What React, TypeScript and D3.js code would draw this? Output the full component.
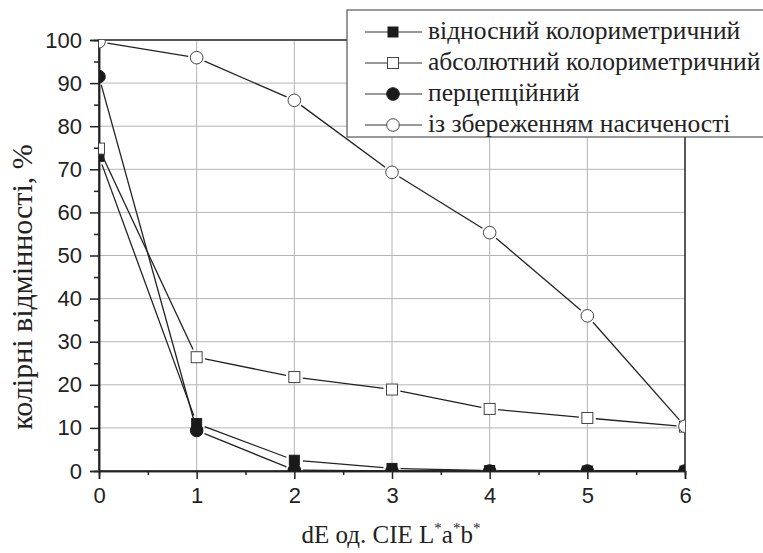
import React, { useEffect, useRef } from 'react';
import * as d3 from 'd3';

const xValues = [0, 1, 2, 3, 4, 5, 6];
const relative = [73, 11, 2.5, 0.6, 0.1, 0, 0];
const absolute = [74.8, 26.4, 21.8, 18.9, 14.4, 12.3, 10.3];
const perceptual = [91.5, 9.4, 0.2, 0, 0, 0, 0];
const saturation = [99.6, 95.9, 86, 69.3, 55.3, 36, 10.4];
const seriesNames = [
  'відносний колориметричний',
  'абсолютний колориметричний',
  'перцепційний',
  'із збереженням насиченості',
];
const yTicks = [0, 10, 20, 30, 40, 50, 60, 70, 80, 90, 100];

const SERIF = '"Liberation Serif", "Times New Roman", serif';

const App = () => {
  const svgRef = useRef<SVGSVGElement>(null);

  useEffect(() => {
    const W = 763;
    const H = 553;
    const margin = { top: 40, right: 78, bottom: 82, left: 99 };
    const width = W - margin.left - margin.right;
    const height = H - margin.top - margin.bottom;

    const x = d3.scaleLinear().domain([0, 6]).range([0, width]);
    const y = d3.scaleLinear().domain([0, 100]).range([height, 0]);

    const svg = d3.select(svgRef.current);
    svg.selectAll('*').remove();
    svg.attr('width', W).attr('height', H);

    svg.append('defs').append('clipPath').attr('id', 'plotclip')
      .append('rect').attr('width', width).attr('height', height);

    const g = svg.append('g').attr('transform', `translate(${margin.left},${margin.top})`);

    // grid
    g.append('g').selectAll('line').data(xValues.slice(1, -1)).join('line')
      .attr('x1', (d) => x(d)).attr('x2', (d) => x(d))
      .attr('y1', 0).attr('y2', height)
      .attr('stroke', '#b4b4b4').attr('stroke-width', 1);
    g.append('g').selectAll('line').data(yTicks.slice(1, -1)).join('line')
      .attr('x1', 0).attr('x2', width)
      .attr('y1', (d) => y(d)).attr('y2', (d) => y(d))
      .attr('stroke', '#b4b4b4').attr('stroke-width', 1);

    // frame
    g.append('rect').attr('width', width).attr('height', height)
      .attr('fill', 'none').attr('stroke', '#222').attr('stroke-width', 1.5);

    // axes
    const xAxis = g.append('g').attr('transform', `translate(0,${height})`)
      .call(d3.axisBottom(x).tickValues(xValues).tickFormat(d3.format('d')).tickSize(8).tickPadding(8));
    g.append('g').attr('transform', `translate(0,${height})`)
      .call(d3.axisBottom(x).tickValues(d3.range(0.5, 6, 1)).tickFormat(() => '').tickSize(4));
    const yAxis = g.append('g')
      .call(d3.axisLeft(y).tickValues(yTicks).tickFormat(d3.format('d')).tickSize(9).tickPadding(8));
    g.append('g')
      .call(d3.axisLeft(y).tickValues(d3.range(5, 100, 10)).tickFormat(() => '').tickSize(5));
    g.selectAll('.domain').attr('stroke', '#222').attr('stroke-width', 1.5);
    g.selectAll('.tick line').attr('stroke', '#222').attr('stroke-width', 1.5);
    [xAxis, yAxis].forEach((a) =>
      a.selectAll('text').attr('font-family', '"Liberation Sans", Arial, sans-serif')
        .attr('font-size', 22).attr('fill', '#222'));

    const all = [relative, absolute, perceptual, saturation];
    const kinds = ['sq-fill', 'sq-open', 'ci-fill', 'ci-open'];

    const drawMarker = (sel, kind: string, cx: number, cy: number) => {
      const filled = kind.endsWith('fill');
      if (kind.startsWith('sq')) {
        const s = filled ? 10 : 11;
        sel.append('rect').attr('x', cx - s / 2).attr('y', cy - s / 2)
          .attr('width', s).attr('height', s)
          .attr('fill', filled ? '#1a1a1a' : '#fff')
          .attr('stroke', filled ? '#1a1a1a' : '#444').attr('stroke-width', 1);
      } else {
        sel.append('circle').attr('cx', cx).attr('cy', cy).attr('r', 6.3)
          .attr('fill', filled ? '#1a1a1a' : '#fff')
          .attr('stroke', filled ? '#1a1a1a' : '#444').attr('stroke-width', 1);
      }
    };

    const plot = g.append('g').attr('clip-path', 'url(#plotclip)');
    all.forEach((vals, si) => {
      const pts = vals.map((v, i) => [x(xValues[i]), y(v)]);
      const gap = 8.5;
      for (let i = 0; i < pts.length - 1; i++) {
        const [x1, y1] = pts[i];
        const [x2, y2] = pts[i + 1];
        const len = Math.hypot(x2 - x1, y2 - y1);
        if (len < gap * 2) continue;
        const ux = (x2 - x1) / len;
        const uy = (y2 - y1) / len;
        plot.append('line')
          .attr('x1', x1 + ux * gap).attr('y1', y1 + uy * gap)
          .attr('x2', x2 - ux * gap).attr('y2', y2 - uy * gap)
          .attr('stroke', '#222').attr('stroke-width', 1.3);
      }
      pts.forEach(([px, py]) => drawMarker(plot, kinds[si], px, py));
    });

    // axis titles
    const xt = svg.append('text').attr('x', 391).attr('y', 543)
      .attr('text-anchor', 'middle')
      .attr('font-family', SERIF)
      .attr('font-size', 25).attr('fill', '#222');
    xt.append('tspan').text('dE од. CIE L');
    xt.append('tspan').attr('dy', -10).attr('font-size', 15).text('*');
    xt.append('tspan').attr('dy', 10).text('a');
    xt.append('tspan').attr('dy', -10).attr('font-size', 15).text('*');
    xt.append('tspan').attr('dy', 10).text('b');
    xt.append('tspan').attr('dy', -10).attr('font-size', 15).text('*');

    svg.append('text')
      .attr('transform', 'translate(32,287) rotate(-90)')
      .attr('text-anchor', 'middle')
      .attr('font-family', SERIF)
      .attr('font-size', 30).attr('fill', '#222')
      .text('колірні відмінності, %');

    // legend
    const lg = svg.append('g');
    lg.append('rect').attr('x', 347).attr('y', 10).attr('width', 430).attr('height', 127)
      .attr('fill', '#fff').attr('stroke', '#555').attr('stroke-width', 1.2);
    const rowY = [32, 63, 94, 125];
    seriesNames.forEach((name, i) => {
      const ry = rowY[i];
      lg.append('line').attr('x1', 365).attr('x2', 422).attr('y1', ry).attr('y2', ry)
        .attr('stroke', '#333').attr('stroke-width', 1.2);
      drawMarker(lg, kinds[i], 393, ry);
      lg.append('text').attr('x', 428).attr('y', ry + 7)
        .attr('font-family', SERIF)
        .attr('font-size', 25.5).attr('fill', '#222')
        .text(name);
    });
  }, []);

  return <svg ref={svgRef} style={{ position: 'absolute', left: 0, top: 0 }}></svg>;
};

export default App;
